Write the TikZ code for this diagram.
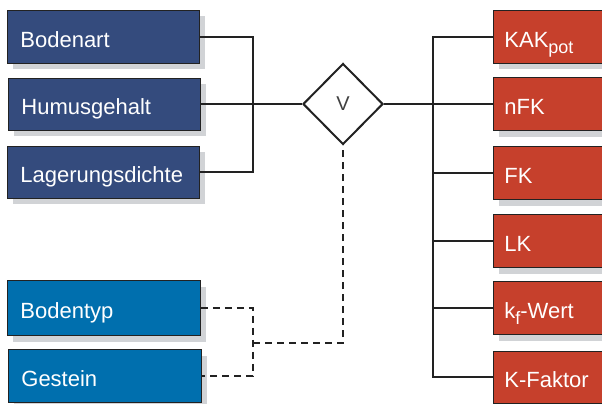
\documentclass[tikz,border=0pt]{standalone}
\usepackage{fontspec}
\setmainfont{Liberation Sans}
\usetikzlibrary{shapes.geometric,shadows}
\definecolor{darkb}{HTML}{344B7D}
\definecolor{lightb}{HTML}{006FAE}
\definecolor{redc}{HTML}{C6402C}
\definecolor{shadowc}{HTML}{D1D3D6}
\definecolor{linec}{HTML}{222222}
\newcommand{\subtxt}[1]{\raisebox{-6pt}{\fontsize{18}{18}\selectfont #1}}
\begin{document}
\begin{tikzpicture}[x=1pt,y=-1pt,
  box/.style={draw=linec, line width=0.8pt, text=white,
    font=\fontsize{22}{26}\selectfont, minimum height=53pt,
    text height=21pt, text depth=0pt, align=left, anchor=west,
    drop shadow={shadow xshift=6pt, shadow yshift=-6pt, fill=shadowc, opacity=1}},
  leftbox/.style={box, fill=darkb, text width=166pt, inner xsep=13pt},
  lightbox/.style={box, fill=lightb, text width=167pt, inner xsep=13pt},
  rightbox/.style={box, fill=redc, text width=150pt, inner xsep=11pt},
  conn/.style={draw=linec, line width=2pt},
  dashconn/.style={draw=linec, line width=2pt, dash pattern=on 7pt off 5pt},
  gate/.style={diamond, draw=linec, line width=2pt, fill=white, minimum width=80pt,
    minimum height=81pt, inner sep=0pt, font=\fontsize{20}{20}\selectfont, text=black!75}
]
\useasboundingbox (0,0) rectangle (602,404);
\clip (0,0) rectangle (602,404);
\fill[white] (0,0) rectangle (602,404);

% left inputs
\node[leftbox] (bodenart) at (7,37) {Bodenart};
\node[leftbox, minimum height=52pt] (humus) at (8,104) {Humusgehalt};
\node[leftbox, minimum height=52pt] (lager) at (7,172) {Lagerungsdichte};
\node[lightbox, minimum height=55pt] (bodentyp) at (7,308) {Bodentyp};
\node[lightbox] (gestein) at (8,376) {Gestein};

% gate
\node[gate] (d) at (343,104) {V};

% right outputs
\node[rightbox] (kak) at (493,37) {KAK\subtxt{pot}};
\node[rightbox] (nfk) at (493,104) {nFK};
\node[rightbox] (fk) at (493,173) {FK};
\node[rightbox] (lk) at (493,241) {LK};
\node[rightbox] (kfw) at (493,308) {k\subtxt{f}-Wert};
\node[rightbox, minimum height=52pt] (kfak) at (493,377) {K-Faktor};

% junction coordinates
\coordinate (jl) at (253,104);
\coordinate (bus) at (433,104);
\coordinate (jd) at (253,343);

% solid connectors
\draw[conn] (bodenart.east) -| (jl) |- (lager.east);
\draw[conn] (humus.east) -- (d.west);
\draw[conn] (d.east) -- (nfk.west);
\draw[conn] (kak.west) -| (bus) |- (kfak.west);
\foreach \n in {fk,lk,kfw} \draw[conn] (bus |- \n.west) -- (\n.west);

% dashed connectors
\draw[dashconn] (bodentyp.east) -| (jd) |- (gestein.east);
\draw[dashconn] (jd) -| (d.south);
\end{tikzpicture}
\end{document}
